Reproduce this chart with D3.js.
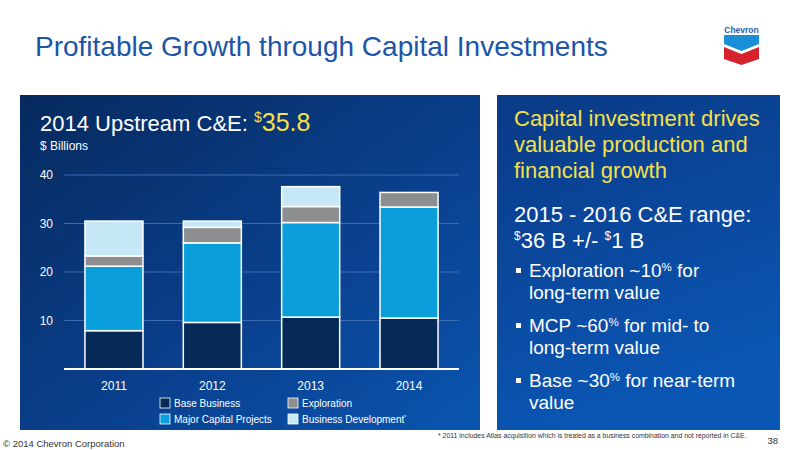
<!DOCTYPE html>
<html>
<head>
<meta charset="utf-8">
<script src="https://cdn.jsdelivr.net/npm/d3@7"></script>
<style>
  body { margin: 0; background: #fff; }
  svg { display: block; font-family: "Liberation Sans", Arial, sans-serif; }
</style>
</head>
<body>
<div id="chart"></div>
<script>
// chart data
const years = ["2011", "2012", "2013", "2014"];
const baseBusiness = [7.9, 9.6, 10.7, 10.5];
const majorProjects = [13.3, 16.4, 19.5, 22.9];
const exploration = [2.1, 3.2, 3.3, 3.0];
const businessDev = [7.2, 1.3, 4.1, 0];
const yTicks = [10, 20, 30, 40];

const seriesNames = ["Base Business", "Major Capital Projects", "Exploration", "Business Development"];
const seriesColors = ["#062a57", "#0a9edb", "#8d8e90", "#c6e8f6"];

const rows = years.map((y, i) => ({
  year: y,
  "Base Business": baseBusiness[i],
  "Major Capital Projects": majorProjects[i],
  "Exploration": exploration[i],
  "Business Development": businessDev[i]
}));

const W = 800, H = 450;
const svg = d3.select("#chart").append("svg")
  .attr("width", W)
  .attr("height", H);

const defs = svg.append("defs");
let g1 = defs.append("linearGradient").attr("id", "leftBg")
  .attr("x1", "0%").attr("y1", "0%").attr("x2", "100%").attr("y2", "100%");
g1.append("stop").attr("offset", "0%").attr("stop-color", "#062a5e");
g1.append("stop").attr("offset", "55%").attr("stop-color", "#0a3f8c");
g1.append("stop").attr("offset", "100%").attr("stop-color", "#0a55b0");

let g2 = defs.append("linearGradient").attr("id", "rightBg")
  .attr("x1", "0%").attr("y1", "0%").attr("x2", "30%").attr("y2", "100%");
g2.append("stop").attr("offset", "0%").attr("stop-color", "#0a3a86");
g2.append("stop").attr("offset", "100%").attr("stop-color", "#0a56b4");

// slide title
svg.append("text")
  .attr("x", 35).attr("y", 56)
  .attr("font-size", 28)
  .attr("fill", "#1b55a8")
  .text("Profitable Growth through Capital Investments");

// chevron logo (decoration)
let logo = svg.append("g");
logo.append("text")
  .attr("x", 741.5).attr("y", 33)
  .attr("text-anchor", "middle")
  .attr("font-size", 8.5).attr("font-weight", "bold")
  .attr("fill", "#1f5fae")
  .text("Chevron");
logo.append("path")
  .attr("d", "M724,35 L759,35 L759,44 L741.5,51 L724,44 Z")
  .attr("fill", "#1a8fd6");
logo.append("path")
  .attr("d", "M724,47 L741.5,54 L759,47 L759,59 L741.5,65 L724,59 Z")
  .attr("fill", "#d5222c");

// panels
svg.append("rect").attr("x", 20).attr("y", 95).attr("width", 460).attr("height", 335)
  .attr("fill", "url(#leftBg)");
svg.append("rect").attr("x", 497).attr("y", 95).attr("width", 283).attr("height", 335)
  .attr("fill", "url(#rightBg)");

// left panel heading
let head = svg.append("text").attr("x", 40).attr("y", 131).attr("font-size", 22).attr("fill", "#fff");
head.append("tspan").text("2014 Upstream C&E: ");
head.append("tspan").attr("fill", "#f4e04a").attr("font-size", 14).attr("dy", -9).text("$");
head.append("tspan").attr("fill", "#f4e04a").attr("font-size", 25).attr("dy", 9).text("35.8");

svg.append("text").attr("x", 40).attr("y", 150).attr("font-size", 12).attr("fill", "#fff")
  .text("$ Billions");

// scales
const x = d3.scaleBand()
  .domain(years)
  .range([64, 459])
  .paddingInner(0.41)
  .paddingOuter(0.213);

const y = d3.scaleLinear()
  .domain([0, 40])
  .range([369, 175]);

// gridlines
svg.append("g")
  .selectAll("line")
  .data(yTicks)
  .join("line")
    .attr("x1", 64).attr("x2", 459)
    .attr("y1", d => y(d)).attr("y2", d => y(d))
    .attr("stroke", "#3a6cb4").attr("stroke-width", 1);

// y axis labels
const yAxis = d3.axisLeft(y).tickValues(yTicks).tickSize(0).tickPadding(0);
let ya = svg.append("g").attr("transform", "translate(53,0)").call(yAxis);
ya.select(".domain").remove();
ya.selectAll("text").attr("fill", "#fff").attr("font-size", 12)
  .attr("font-family", "Liberation Sans, Arial, sans-serif");

// stacked bars
const stack = d3.stack().keys(seriesNames);
const layers = stack(rows);

svg.append("g")
  .selectAll("g")
  .data(layers)
  .join("g")
    .attr("fill", (d, i) => seriesColors[i])
  .selectAll("rect")
  .data(d => d.filter(s => s[1] - s[0] > 0))
  .join("rect")
    .attr("x", d => x(d.data.year))
    .attr("y", d => y(d[1]))
    .attr("width", x.bandwidth())
    .attr("height", d => y(d[0]) - y(d[1]))
    .attr("stroke", "#fff")
    .attr("stroke-width", 1.5);

// baseline
svg.append("line")
  .attr("x1", 64).attr("x2", 459)
  .attr("y1", y(0)).attr("y2", y(0))
  .attr("stroke", "#fff").attr("stroke-width", 2);

// x axis labels
const xAxis = d3.axisBottom(x).tickSize(0).tickPadding(12);
let xa = svg.append("g").attr("transform", "translate(0," + y(0) + ")").call(xAxis);
xa.select(".domain").remove();
xa.selectAll("text").attr("fill", "#fff").attr("font-size", 12)
  .attr("font-family", "Liberation Sans, Arial, sans-serif");

// legend
const legendPos = [[160, 398], [160, 414], [288, 398], [288, 414]];
let leg = svg.append("g")
  .selectAll("g")
  .data(seriesNames)
  .join("g")
    .attr("transform", (d, i) => "translate(" + legendPos[i][0] + "," + legendPos[i][1] + ")");
leg.append("rect")
  .attr("width", 10).attr("height", 10)
  .attr("fill", (d, i) => seriesColors[i])
  .attr("stroke", "#fff").attr("stroke-width", 0.8);
leg.append("text")
  .attr("x", 14).attr("y", 9)
  .attr("font-size", 10).attr("fill", "#fff")
  .text(d => d);
leg.filter(d => d === "Business Development").select("text")
  .append("tspan").attr("font-size", 5).attr("dy", -4).text("*");

// right panel text
const yellowLines = ["Capital investment drives", "valuable production and", "financial growth"];
svg.append("g").selectAll("text")
  .data(yellowLines)
  .join("text")
    .attr("x", 514).attr("y", (d, i) => 126 + i * 26)
    .attr("font-size", 22).attr("fill", "#f4e04a")
    .text(d => d);

svg.append("text").attr("x", 514).attr("y", 222).attr("font-size", 22).attr("fill", "#fff")
  .text("2015 - 2016 C&E range:");
let rng = svg.append("text").attr("x", 514).attr("y", 248).attr("font-size", 22).attr("fill", "#fff");
rng.append("tspan").attr("font-size", 12).attr("dy", -8).text("$");
rng.append("tspan").attr("dy", 8).text("36 B +/- ");
rng.append("tspan").attr("font-size", 12).attr("dy", -8).text("$");
rng.append("tspan").attr("dy", 8).text("1 B");

const bullets = [
  ["Exploration ~10", " for", "long-term value"],
  ["MCP ~60", " for mid- to", "long-term value"],
  ["Base ~30", " for near-term", "value"]
];
let bl = svg.append("g").selectAll("g")
  .data(bullets)
  .join("g")
    .attr("transform", (d, i) => "translate(0," + (277 + i * 55) + ")");
bl.append("rect").attr("x", 516).attr("y", -9).attr("width", 5).attr("height", 5).attr("fill", "#fff");
let t1 = bl.append("text").attr("x", 529).attr("y", 0).attr("font-size", 19).attr("fill", "#fff");
t1.append("tspan").text(d => d[0]);
t1.append("tspan").attr("font-size", 11.5).attr("dy", -6).text("%");
t1.append("tspan").attr("dy", 6).text(d => d[1]);
bl.append("text").attr("x", 529).attr("y", 22).attr("font-size", 19).attr("fill", "#fff")
  .text(d => d[2]);

// footer
svg.append("text").attr("x", 3).attr("y", 447).attr("font-size", 9.5).attr("fill", "#333")
  .text("© 2014 Chevron Corporation");
svg.append("text").attr("x", 778).attr("y", 444).attr("text-anchor", "end")
  .attr("font-size", 9.5).attr("fill", "#333").text("38");
svg.append("text").attr("x", 438).attr("y", 438).attr("font-size", 6.9).attr("fill", "#333")
  .text("* 2011 includes Atlas acquisition which is treated as a business combination and not reported in C&E.");
</script>
</body>
</html>
